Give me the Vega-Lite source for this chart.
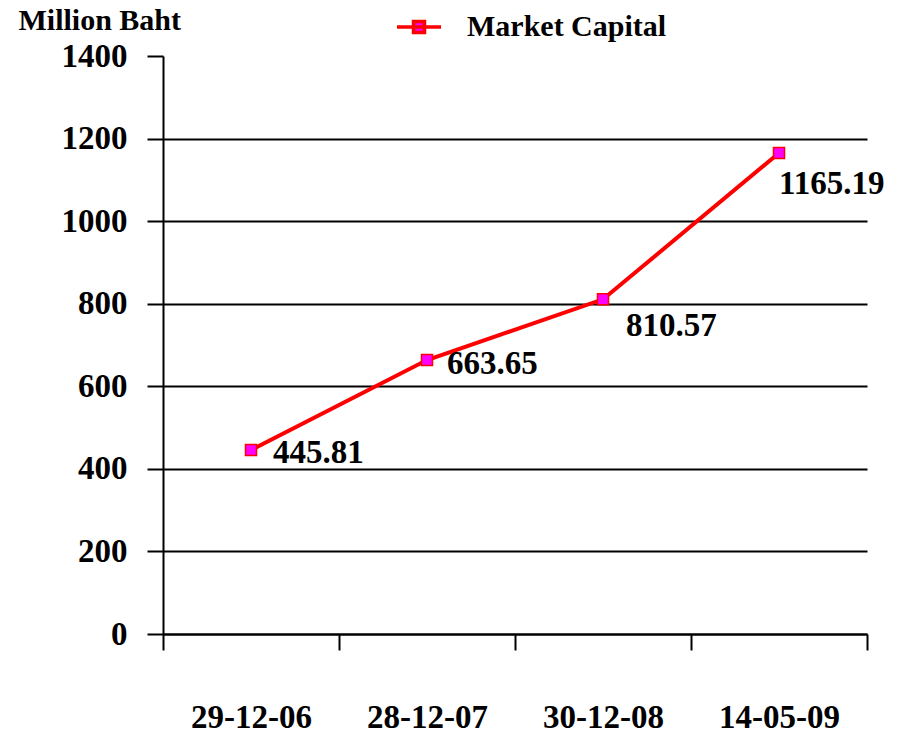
{
  "$schema": "https://vega.github.io/schema/vega-lite/v6.json",
  "autosize": {"type": "none"},
  "width": 704,
  "height": 578,
  "padding": {"left": 163, "top": 56, "right": 37, "bottom": 105},
  "background": "#ffffff",
  "config": {
    "view": {"stroke": null},
    "font": "Liberation Serif"
  },
  "data": {
    "values": [
      {"date": "29-12-06", "value": 445.81, "label": "445.81"},
      {"date": "28-12-07", "value": 663.65, "label": "663.65"},
      {"date": "30-12-08", "value": 810.57, "label": "810.57"},
      {"date": "14-05-09", "value": 1165.19, "label": "1165.19"}
    ]
  },
  "encoding": {
    "x": {
      "field": "date",
      "type": "nominal",
      "sort": null,
      "scale": {"paddingInner": 0, "paddingOuter": 0},
      "axis": {
        "title": null,
        "labelAngle": 0,
        "tickBand": "extent",
        "tickSize": 16,
        "tickWidth": 2,
        "tickColor": "#000000",
        "domainColor": "#000000",
        "domainWidth": 2,
        "labelPadding": 51,
        "labelBaseline": "top",
        "labelFont": "Liberation Serif",
        "labelFontWeight": "bold",
        "labelFontSize": 33,
        "labelColor": "#000000",
        "grid": false
      }
    },
    "y": {
      "field": "value",
      "type": "quantitative",
      "scale": {"domain": [0, 1400], "nice": false},
      "axis": {
        "values": [0, 200, 400, 600, 800, 1000, 1200, 1400],
        "format": "d",
        "title": "Million Baht",
        "titleAngle": 0,
        "titleAlign": "left",
        "titleBaseline": "middle",
        "titleX": -145,
        "titleY": -36,
        "titleFont": "Liberation Serif",
        "titleFontWeight": "bold",
        "titleFontSize": 30,
        "titleColor": "#000000",
        "tickSize": 16,
        "tickWidth": 2,
        "tickColor": "#000000",
        "domainColor": "#000000",
        "domainWidth": 2,
        "labelPadding": 20,
        "labelFont": "Liberation Serif",
        "labelFontWeight": "bold",
        "labelFontSize": 33,
        "labelColor": "#000000",
        "grid": true,
        "gridColor": "#000000",
        "gridWidth": 2,
        "gridOpacity": {"condition": {"test": "datum.value >= 1400", "value": 0}, "value": 1}
      }
    }
  },
  "layer": [
    {
      "mark": {"type": "line", "strokeWidth": 4},
      "encoding": {
        "color": {
          "datum": "Market Capital",
          "scale": {"range": ["#ff0000"]},
          "legend": {
            "title": null,
            "orient": "none",
            "legendX": 232,
            "legendY": -53,
            "symbolType": "M-1,0H1M-0.25,-0.25H0.25V0.25H-0.25Z",
            "symbolSize": 1936,
            "symbolStrokeWidth": 3.5,
            "symbolFillColor": "#ff00ff",
            "symbolStrokeColor": "#ff0000",
            "labelFont": "Liberation Serif",
            "labelFontWeight": "bold",
            "labelFontSize": 30,
            "labelColor": "#000000",
            "labelOffset": 24,
            "labelLimit": 400
          }
        }
      }
    },
    {
      "mark": {"type": "point", "shape": "square", "filled": true, "fill": "#ff00ff", "stroke": "#ff0000", "strokeWidth": 1.5, "size": 121, "opacity": 1}
    },
    {
      "transform": [{"filter": "datum.date == '29-12-06'"}],
      "mark": {"type": "text", "align": "left", "baseline": "middle", "dx": 22, "dy": 3, "font": "Liberation Serif", "fontWeight": "bold", "fontSize": 33, "color": "#000000"},
      "encoding": {"text": {"field": "label"}}
    },
    {
      "transform": [{"filter": "datum.date == '28-12-07'"}],
      "mark": {"type": "text", "align": "left", "baseline": "middle", "dx": 20, "dy": 4, "font": "Liberation Serif", "fontWeight": "bold", "fontSize": 33, "color": "#000000"},
      "encoding": {"text": {"field": "label"}}
    },
    {
      "transform": [{"filter": "datum.date == '30-12-08'"}],
      "mark": {"type": "text", "align": "left", "baseline": "middle", "dx": 23, "dy": 27, "font": "Liberation Serif", "fontWeight": "bold", "fontSize": 33, "color": "#000000"},
      "encoding": {"text": {"field": "label"}}
    },
    {
      "transform": [{"filter": "datum.date == '14-05-09'"}],
      "mark": {"type": "text", "align": "left", "baseline": "middle", "dx": 0, "dy": 31, "font": "Liberation Serif", "fontWeight": "bold", "fontSize": 33, "color": "#000000"},
      "encoding": {"text": {"field": "label"}}
    }
  ]
}
